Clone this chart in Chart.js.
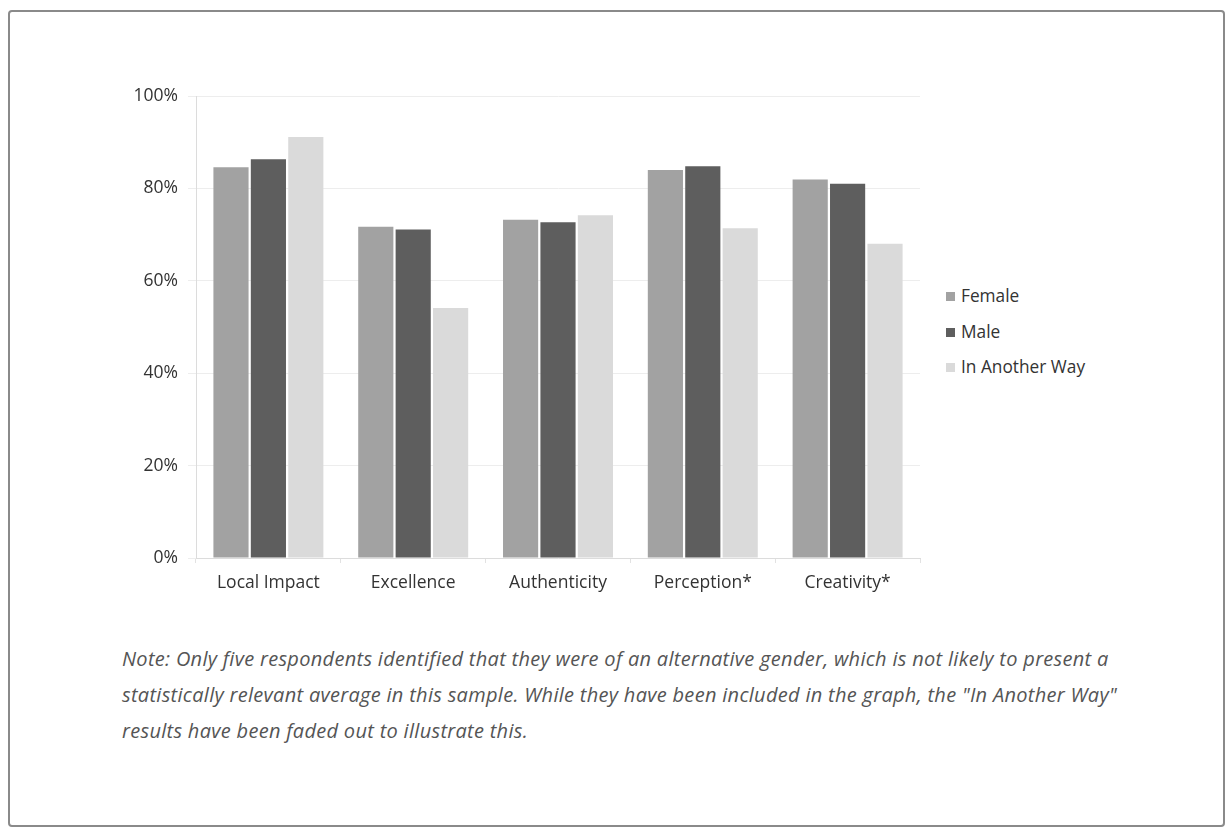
<!DOCTYPE html>
<html>
<head>
<meta charset="utf-8">
<script src="https://cdn.jsdelivr.net/npm/chart.js@4"></script>
<style>
  html, body { margin: 0; padding: 0; background: #fff; }
  body { width: 1230px; height: 831px; position: relative; overflow: hidden; font-family: "Open Sans", sans-serif; }
  .frame { position: absolute; left: 8px; top: 10px; width: 1217px; height: 817px; border: 2px solid #8a8a8a; border-radius: 4px; box-sizing: border-box; }
  #wrap { position: absolute; left: 0; top: 0; width: 930px; height: 620px; }
  .legend { position: absolute; left: 946px; top: 283px; }
  .legend div { height: 35.5px; line-height: 25px; font-size: 17.3px; color: #333; white-space: nowrap; }
  .legend span { display: inline-block; width: 9px; height: 9px; margin-right: 6px; vertical-align: 1px; }
  .note { position: absolute; left: 122px; top: 641px; font-size: 20px; letter-spacing: 0.3px; line-height: 35.8px; font-style: italic; color: #555; white-space: nowrap; }
</style>
</head>
<body>
<div class="frame"></div>
<div id="wrap"><canvas id="c" width="930" height="620"></canvas></div>
<div class="legend" id="legend"></div>
<div class="note">Note: Only five respondents identified that they were of an alternative gender, which is not likely to present a<br>statistically relevant average in this sample. While they have been included in the graph, the "In Another Way"<br>results have been faded out to illustrate this.</div>
<script>
// Survey categories and share of respondents per gender group (percent)
const categories = ["Local Impact", "Excellence", "Authenticity", "Perception*", "Creativity*"];
const seriesNames = ["Female", "Male", "In Another Way"];
const female = [84.6, 71.7, 73.2, 84.0, 81.9];
const male = [86.3, 71.1, 72.7, 84.8, 81.0];
const anotherWay = [91.1, 54.1, 74.2, 71.4, 68.0];
const seriesColors = ["#a2a2a2", "#5e5e5e", "#dadada"];
const yTicks = [0, 20, 40, 60, 80, 100];

const seriesValues = [female, male, anotherWay];

// Legend entries
const legendEl = document.getElementById("legend");
seriesNames.forEach((name, i) => {
  const row = document.createElement("div");
  const sw = document.createElement("span");
  sw.style.background = seriesColors[i];
  row.appendChild(sw);
  row.appendChild(document.createTextNode(name));
  legendEl.appendChild(row);
});

const font = { family: "'Open Sans', sans-serif", size: 17.5 };

new Chart(document.getElementById("c"), {
  type: "bar",
  data: {
    labels: categories,
    datasets: seriesNames.map((name, i) => ({
      label: name,
      data: seriesValues[i],
      backgroundColor: seriesColors[i],
      borderWidth: 0,
      categoryPercentage: 0.775,
      barPercentage: 0.94
    }))
  },
  options: {
    responsive: false,
    animation: false,
    devicePixelRatio: 1,
    layout: { padding: { top: 96, right: 10, bottom: 0, left: 0 } },
    plugins: { legend: { display: false }, tooltip: { enabled: false } },
    scales: {
      x: {
        grid: { drawOnChartArea: false, drawTicks: true, tickLength: 5, color: "#e2e2e2" },
        border: { color: "#dcdcdc", width: 1 },
        ticks: { color: "#333", font: font, padding: 10 },
        afterFit: (s) => { s.height = 62; }
      },
      y: {
        min: 0,
        max: 100,
        afterBuildTicks: (s) => { s.ticks = yTicks.map(v => ({ value: v })); },
        grid: { color: "#ededed", tickLength: 8 },
        border: { color: "#dcdcdc", width: 1 },
        ticks: { color: "#333", font: font, padding: 10, callback: (v) => v + "%" },
        afterFit: (s) => { s.width = 196; }
      }
    }
  }
});
</script>
</body>
</html>
